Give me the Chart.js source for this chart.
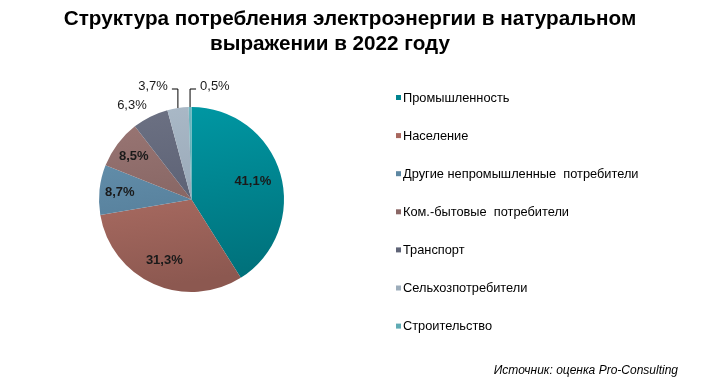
<!DOCTYPE html>
<html>
<head>
<meta charset="utf-8">
<script src="https://cdn.jsdelivr.net/npm/chart.js@4/dist/chart.umd.min.js"></script>
<style>
  html, body { margin: 0; padding: 0; background: #fff; }
  #wrap { width: 703px; height: 390px; position: relative; }
</style>
</head>
<body>
<div id="wrap"><canvas id="myChart" width="703" height="390"></canvas></div>
<script>
const labels = [
  "Промышленность",
  "Население",
  "Другие непромышленные  потребители",
  "Ком.-бытовые  потребители",
  "Транспорт",
  "Сельхозпотребители",
  "Строительство",
];
const values = [41.1, 31.3, 8.7, 8.5, 6.3, 3.7, 0.5];
const titleLines = [
  "Структура потребления электроэнергии в натуральном",
  "выражении в 2022 году",
];
const sourceText = "Источник: оценка Pro-Consulting";

// light / dark pairs for the slice gradients
const colorsTop = ["#009aa6", "#c07a6f", "#6a97b3", "#9c7876", "#6d7284", "#abbac8", "#72b9c2"];
const colorsBottom = ["#00717b", "#8c5850", "#4d7490", "#785957", "#51566a", "#8c9cac", "#4e9aa4"];
const legendColors = ["#00838f", "#a8675e", "#5d87a2", "#8a6765", "#5f6477", "#9dadbb", "#5fabb4"];

const font = "'Liberation Sans', Arial, sans-serif";

function sliceColor(ctx) {
  const chart = ctx.chart;
  const a = chart.chartArea;
  if (!a) return colorsTop[ctx.dataIndex];
  const g = chart.ctx.createLinearGradient(a.left, a.top, a.left + 30, a.bottom);
  g.addColorStop(0, colorsTop[ctx.dataIndex]);
  g.addColorStop(1, colorsBottom[ctx.dataIndex]);
  return g;
}

// label radius factors / angle nudges (inside for big slices, outside for small)
const labelRadius = [0.69, 0.72, 0.78, 0.78, 1.2, 1.0, 1.0];
const labelNudge = [0, 0, 0, 0, -0.105, 0, 0];

const decor = {
  id: "decor",
  afterDraw(chart) {
    const c = chart.ctx;
    c.save();
    // title
    c.fillStyle = "#000";
    c.font = "bold 20.7px " + font;
    c.textAlign = "center";
    c.textBaseline = "middle";
    c.fillText(titleLines[0], 350, 19);
    c.fillText(titleLines[1], 330, 44);

    // source
    c.font = "italic 12px " + font;
    c.textAlign = "right";
    c.fillText(sourceText, 678, 371);

    // legend
    c.font = "12.8px " + font;
    c.textAlign = "left";
    labels.forEach((l, i) => {
      const y = 98 + i * 38.1;
      c.fillStyle = legendColors[i];
      c.fillRect(396, y - 3, 5, 5);
      c.fillStyle = "#000";
      c.fillText(l, 403, y);
    });

    // data labels
    const meta = chart.getDatasetMeta(0);
    c.fillStyle = "#1a1a1a";
    meta.data.forEach((arc, i) => {
      const p = arc.getProps(["x", "y", "startAngle", "endAngle", "outerRadius"], true);
      const mid = (p.startAngle + p.endAngle) / 2 + labelNudge[i];
      const txt = values[i].toFixed(1).replace(".", ",") + "%";
      if (i < 5) {
        c.font = (i < 4 ? "bold " : "") + "13px " + font;
        c.textAlign = "center";
        const r = p.outerRadius * labelRadius[i];
        c.fillText(txt, p.x + Math.cos(mid) * r, p.y + Math.sin(mid) * r);
      } else {
        // leader lines for the tiny slices
        c.font = "13px " + font;
        const ex = p.x + Math.cos(mid) * p.outerRadius;
        const ey = p.y + Math.sin(mid) * p.outerRadius;
        const ly = p.y - p.outerRadius - 18;
        const dir = i === 5 ? -1 : 1;
        c.strokeStyle = "#000";
        c.lineWidth = 1;
        c.beginPath();
        c.moveTo(ex, ey);
        c.lineTo(ex, ly);
        c.lineTo(ex + dir * 6, ly);
        c.stroke();
        c.textAlign = dir < 0 ? "right" : "left";
        c.fillText(txt, ex + dir * 10, ly - 3);
      }
    });
    c.restore();
  },
};

const config = {
  type: "pie",
  data: {
    labels,
    datasets: [
      {
        data: values,
        backgroundColor: sliceColor,
        borderWidth: 0,
      },
    ],
  },
  options: {
    responsive: false,
    animation: false,
    layout: {
      padding: { left: 99, right: 419, top: 107, bottom: 98 },
    },
    plugins: {
      legend: { display: false },
      tooltip: { enabled: false },
    },
  },
  plugins: [decor],
};

const myChart = new Chart(document.getElementById("myChart"), config);
</script>
</body>
</html>
